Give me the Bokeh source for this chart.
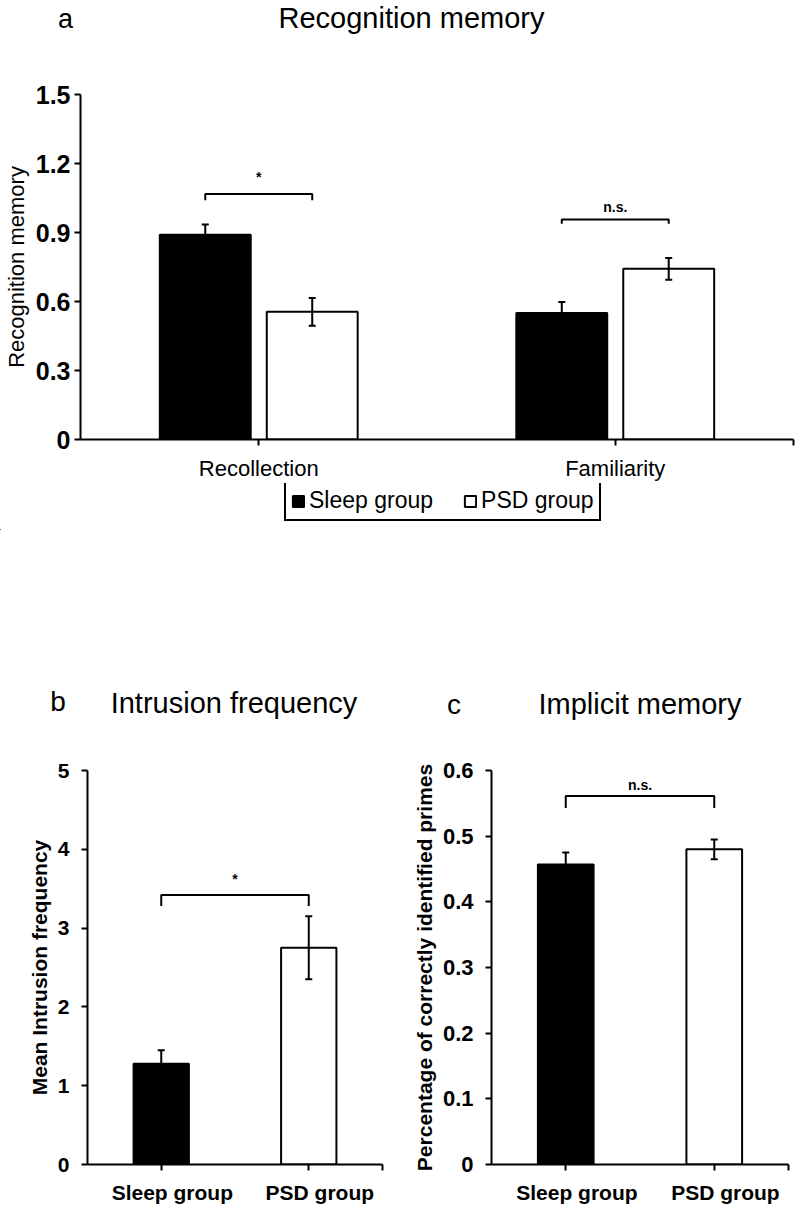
from bokeh.plotting import figure
from bokeh.models import (ColumnDataSource, Whisker, TeeHead, FixedTicker, LinearAxis,
                          Legend, LegendItem, Range1d)
from bokeh.layouts import column, row
from bokeh.embed import file_html
from bokeh.resources import INLINE
from bokeh.core.properties import value

FONT = "Liberation Sans"

# ---------------- data ----------------
recog_categories = ["Recollection", "Familiarity"]
recog_sleep = [0.89, 0.55]
recog_sleep_err = [0.045, 0.048]
recog_psd = [0.555, 0.742]
recog_psd_err = [0.06, 0.047]
recog_yticks = [0, 0.3, 0.6, 0.9, 1.2, 1.5]
recog_ytick_labels = ["0", "0.3", "0.6", "0.9", "1.2", "1.5"]
recog_sig = ["*", "n.s."]
recog_bracket_y = [1.067, 0.956]
recog_bracket_tip = [1.04, 0.938]
recog_sig_y = [1.14, 1.01]

group_categories = ["Sleep group", "PSD group"]

intrusion_mean = [1.28, 2.75]
intrusion_err = [0.17, 0.40]
intrusion_yticks = [0, 1, 2, 3, 4, 5]
intrusion_ytick_labels = ["0", "1", "2", "3", "4", "5"]
intrusion_sig = ["*"]
intrusion_bracket_y = [3.42]
intrusion_bracket_tip = [3.28]
intrusion_sig_y = [3.62]

implicit_mean = [0.457, 0.480]
implicit_err = [0.018, 0.015]
implicit_yticks = [0, 0.1, 0.2, 0.3, 0.4, 0.5, 0.6]
implicit_ytick_labels = ["0", "0.1", "0.2", "0.3", "0.4", "0.5", "0.6"]
implicit_sig = ["n.s."]
implicit_bracket_y = [0.561]
implicit_bracket_tip = [0.543]
implicit_sig_y = [0.578]


def blank_fig(width, height, xr=None, yr=None):
    f = figure(width=width, height=height, output_backend="svg", toolbar_location=None,
               x_axis_type=None, y_axis_type=None, frame_align=False,
               x_range=xr if xr is not None else Range1d(0, width),
               y_range=yr if yr is not None else Range1d(0, height),
               min_border_left=0, min_border_right=0, min_border_top=0, min_border_bottom=0)
    f.grid.visible = False
    f.outline_line_color = None
    f.background_fill_color = "white"
    f.border_fill_color = "white"
    return f


def header(width, height, letter, lx, ly, title, tx, ty, lsize, tsize):
    h = blank_fig(width, height)
    h.text(x=[lx], y=[ly], text=[letter], text_align="center", text_baseline="middle",
           text_font=value(FONT), text_font_size=lsize, text_color="black")
    h.text(x=[tx], y=[ty], text=[title], text_align="center", text_baseline="middle",
           text_font=value(FONT), text_font_size=tsize, text_color="black")
    return h


def style_axes(p, yticks, ylabels, xcats, tick_font_size, tick_bold, xlab_size, xlab_bold,
               ylab_size, ylab_bold, ylab_text, y_standoff, ylab_standoff, x_standoff,
               label_shift=0.0):
    p.xgrid.visible = False
    p.ygrid.visible = False
    p.outline_line_color = None
    p.background_fill_color = "white"
    p.border_fill_color = "white"
    for ax in (p.xaxis[0], p.yaxis[0]):
        ax.axis_line_width = 2
        ax.axis_line_color = "black"
        ax.major_tick_line_width = 2
        ax.major_tick_line_color = "black"
        ax.major_tick_out = 6
        ax.major_tick_in = 0
        ax.minor_tick_line_color = None
        ax.major_label_text_color = "black"
        ax.major_label_text_font = FONT
    ya = p.yaxis[0]
    ya.ticker = FixedTicker(ticks=yticks)
    ya.major_label_overrides = {t: l for t, l in zip(yticks, ylabels)}
    ya.major_label_text_font_size = tick_font_size
    ya.major_label_text_font_style = "bold" if tick_bold else "normal"
    ya.major_label_standoff = y_standoff
    ya.axis_label = ylab_text
    ya.axis_label_text_font = FONT
    ya.axis_label_text_font_size = ylab_size
    ya.axis_label_text_font_style = "bold" if ylab_bold else "normal"
    ya.axis_label_text_color = "black"
    ya.axis_label_standoff = ylab_standoff
    xa = p.xaxis[0]
    xt = [i + 0.5 for i in range(len(xcats))] + [float(len(xcats))]
    xa.ticker = FixedTicker(ticks=xt)
    if label_shift == 0.0:
        ov = {i + 0.5: c for i, c in enumerate(xcats)}
        ov[float(len(xcats))] = " "
        xa.major_label_overrides = ov
        xa.major_label_text_font_size = xlab_size
        xa.major_label_text_font_style = "bold" if xlab_bold else "normal"
        xa.major_label_standoff = x_standoff
    else:
        # tick marks on the main axis (its labels switched off), category names
        # on a line-less axis slightly to the right, as in the original
        xa.major_label_text_color = None
        xa.major_label_text_font_size = "2px"
        xa.major_label_standoff = 0
        lt = [i + 0.5 + label_shift for i in range(len(xcats))]
        lab = LinearAxis(ticker=FixedTicker(ticks=lt),
                         major_label_overrides={t: c for t, c in zip(lt, xcats)},
                         axis_line_color=None, major_tick_line_color=None,
                         minor_tick_line_color=None, major_tick_out=0, major_tick_in=0,
                         minor_tick_out=0, minor_tick_in=0,
                         major_label_standoff=x_standoff, major_label_text_font=FONT,
                         major_label_text_font_size=xlab_size, major_label_text_color="black",
                         major_label_text_font_style="bold" if xlab_bold else "normal")
        p.add_layout(lab, "below")


def add_whisker(p, src):
    w = Whisker(source=src, base="x", upper="upper", lower="lower",
                line_width=2, line_color="black",
                upper_head=TeeHead(size=7, line_width=2, line_color="black"),
                lower_head=TeeHead(size=7, line_width=2, line_color="black"))
    w.level = "overlay"
    p.add_layout(w)


def add_brackets(p, x1, x2, top, tip, sig, sig_y, sig_size):
    xs = [[a, a, b, b] for a, b in zip(x1, x2)]
    ys = [[t0, t1, t1, t0] for t1, t0 in zip(top, tip)]
    p.multi_line(xs=xs, ys=ys, line_color="black", line_width=2)
    p.text(x=[(a + b) / 2 for a, b in zip(x1, x2)], y=sig_y, text=sig,
           text_align="center", text_baseline="middle", text_color="black",
           text_font=value(FONT), text_font_size=sig_size, text_font_style="bold")


# ---------------- panel a ----------------
OFF = 0.15
BW_A = 0.255
ha = header(800, 58, "a", 65, 40, "Recognition memory", 411, 41, "27px", "29px")

pa = figure(width=800, height=425, output_backend="svg", toolbar_location=None, frame_align=False,
            x_range=Range1d(0, 2), y_range=Range1d(0, 1.5),
            min_border_left=78, min_border_right=7, min_border_top=36, min_border_bottom=42)
xa_s = [i + 0.5 - OFF for i in range(len(recog_categories))]
xa_p = [i + 0.5 + OFF for i in range(len(recog_categories))]
src_as = ColumnDataSource(dict(x=xa_s, top=recog_sleep,
                               upper=[v + e for v, e in zip(recog_sleep, recog_sleep_err)],
                               lower=[v - e for v, e in zip(recog_sleep, recog_sleep_err)]))
src_ap = ColumnDataSource(dict(x=xa_p, top=recog_psd,
                               upper=[v + e for v, e in zip(recog_psd, recog_psd_err)],
                               lower=[v - e for v, e in zip(recog_psd, recog_psd_err)]))
pa.vbar(x="x", top="top", width=BW_A, bottom=0, source=src_as,
        fill_color="black", line_color="black", line_width=2)
pa.vbar(x="x", top="top", width=BW_A, bottom=0, source=src_ap,
        fill_color="white", line_color="black", line_width=2)
add_whisker(pa, src_as)
add_whisker(pa, src_ap)
add_brackets(pa, xa_s, xa_p, recog_bracket_y, recog_bracket_tip, recog_sig, recog_sig_y, "14px")
style_axes(pa, recog_yticks, recog_ytick_labels, recog_categories, "25px", True, "22px", False,
           "22px", False, "Recognition memory", 4, 4, 10)

# legend strip (same series, drawn off-view so only the legend shows)
la = blank_fig(800, 47, xr=Range1d(10, 11), yr=Range1d(10, 11))
lr_s = la.vbar(x="x", top="top", width=BW_A, bottom=0, source=src_as,
               fill_color="black", line_color="black", line_width=2)
lr_p = la.vbar(x="x", top="top", width=BW_A, bottom=0, source=src_ap,
               fill_color="white", line_color="black", line_width=2)
legend = Legend(items=[LegendItem(label=group_categories[0], renderers=[lr_s]),
                       LegendItem(label=group_categories[1], renderers=[lr_p])],
                orientation="horizontal", location=(284, 9),
                label_text_font=FONT, label_text_font_size="23px", label_text_color="black",
                glyph_width=14, glyph_height=14, label_standoff=4, spacing=30,
                padding=5, margin=0, border_line_color="black", border_line_width=2,
                border_line_alpha=1.0,
                label_height=22, background_fill_color="white", background_fill_alpha=1)
la.add_layout(legend)

# ---------------- panel b ----------------
BW = 0.375
LSHIFT = 0.075
xb = [i + 0.5 for i in range(len(group_categories))]
hb = header(400, 200, "b", 57.5, 29, "Intrusion frequency", 233.5, 28, "28px", "29px")
pb = figure(width=400, height=476, output_backend="svg", toolbar_location=None, frame_align=False,
            x_range=Range1d(0, 2), y_range=Range1d(0, 5),
            min_border_left=87, min_border_right=18, min_border_top=40, min_border_bottom=42)
src_b = ColumnDataSource(dict(x=xb, top=intrusion_mean, fill=["black", "white"],
                              upper=[v + e for v, e in zip(intrusion_mean, intrusion_err)],
                              lower=[v - e for v, e in zip(intrusion_mean, intrusion_err)]))
pb.vbar(x="x", top="top", width=BW, bottom=0, source=src_b, fill_color="fill",
        line_color="black", line_width=2)
add_whisker(pb, src_b)
add_brackets(pb, [xb[0]], [xb[1]], intrusion_bracket_y, intrusion_bracket_tip,
             intrusion_sig, intrusion_sig_y, "14px")
style_axes(pb, intrusion_yticks, intrusion_ytick_labels, group_categories, "21px", True, "21px", True,
           "21px", True, "Mean Intrusion frequency", 12, 4, 10, label_shift=LSHIFT)

# ---------------- panel c ----------------
hc = header(400, 200, "c", 53.5, 26, "Implicit memory", 239.5, 27, "28px", "29px")
pc = figure(width=400, height=476, output_backend="svg", toolbar_location=None, frame_align=False,
            x_range=Range1d(0, 2), y_range=Range1d(0, 0.6),
            min_border_left=91, min_border_right=12, min_border_top=40, min_border_bottom=42)
src_c = ColumnDataSource(dict(x=xb, top=implicit_mean, fill=["black", "white"],
                              upper=[v + e for v, e in zip(implicit_mean, implicit_err)],
                              lower=[v - e for v, e in zip(implicit_mean, implicit_err)]))
pc.vbar(x="x", top="top", width=BW, bottom=0, source=src_c, fill_color="fill",
        line_color="black", line_width=2)
add_whisker(pc, src_c)
add_brackets(pc, [xb[0]], [xb[1]], implicit_bracket_y, implicit_bracket_tip,
             implicit_sig, implicit_sig_y, "14px")
style_axes(pc, implicit_yticks, implicit_ytick_labels, group_categories, "22px", True, "21px", True,
           "21px", True, "Percentage of correctly identified primes", 12, 4, 10, label_shift=LSHIFT)

layout = column(ha, pa, la, row(column(hb, pb), column(hc, pc)))
open("out.html", "w").write(file_html(layout, INLINE))
